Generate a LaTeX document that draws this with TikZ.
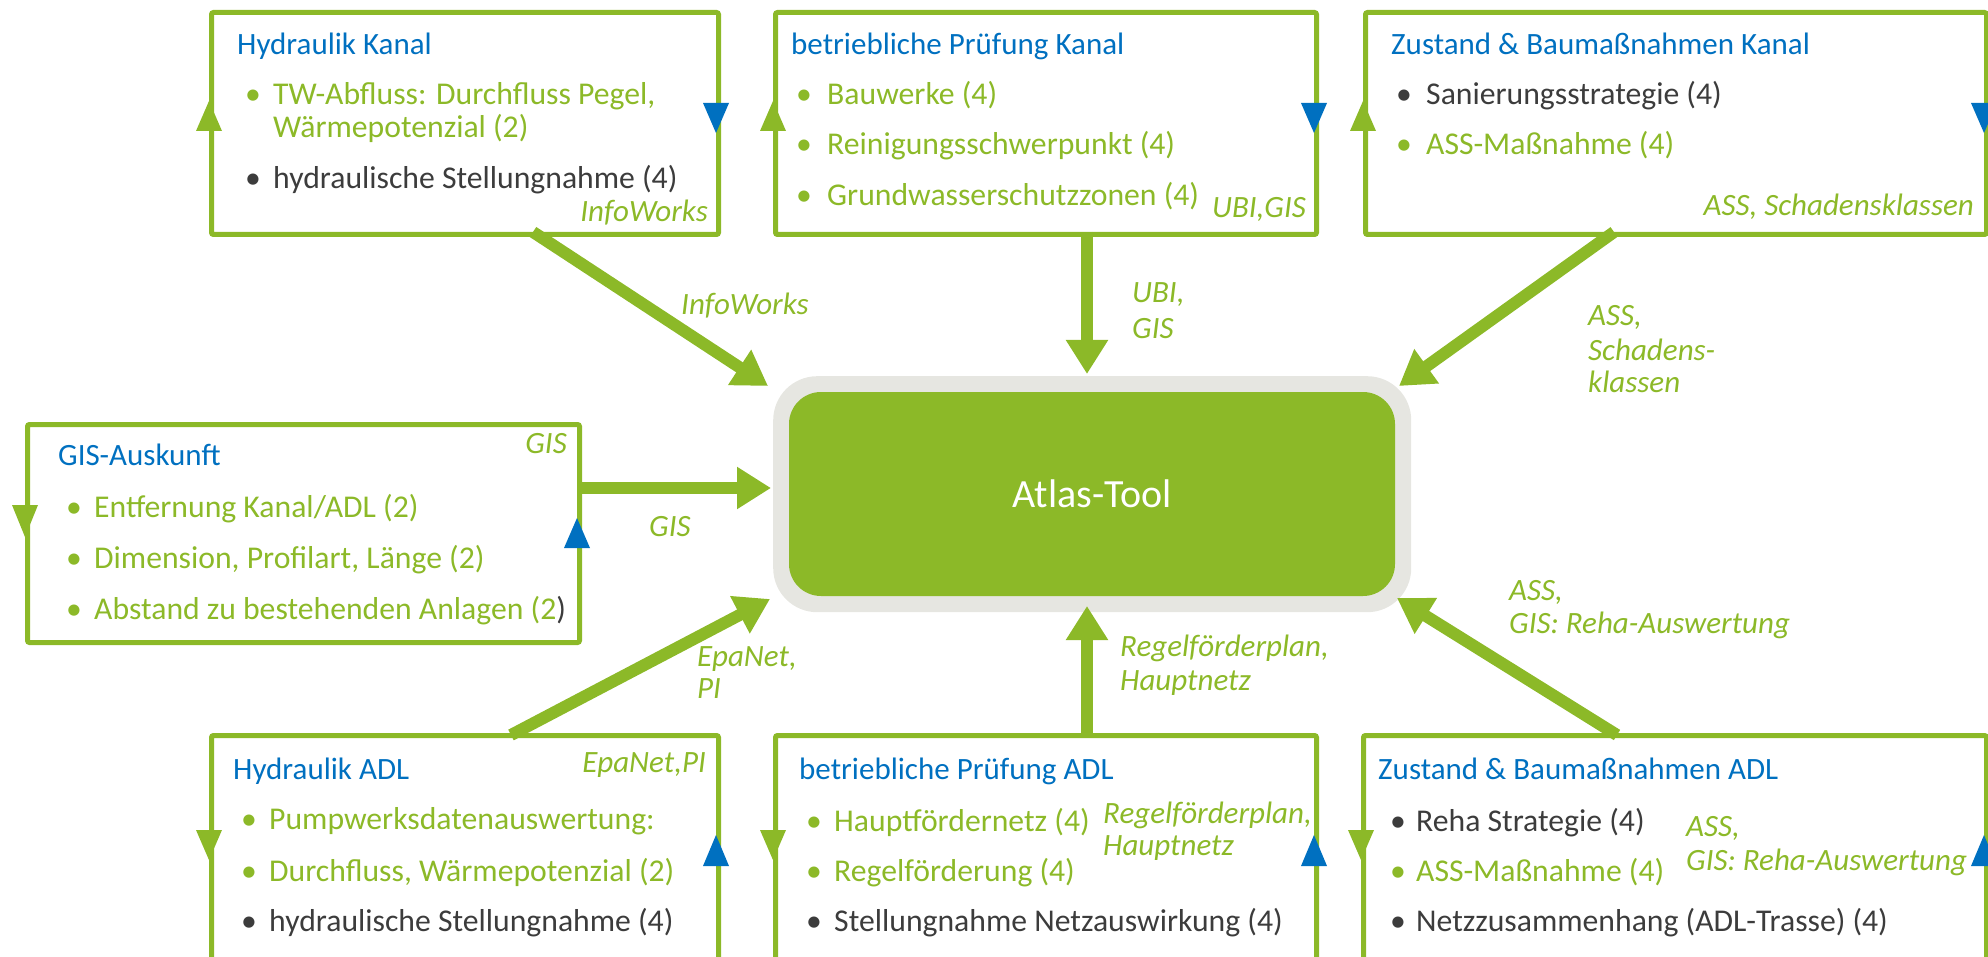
\documentclass[tikz,border=0pt]{standalone}
\usepackage{fontspec}
\setmainfont{Carlito}
\usetikzlibrary{arrows.meta}
\definecolor{agreen}{HTML}{8CB928}
\definecolor{ablue}{HTML}{0070C0}
\definecolor{adark}{HTML}{3C3C3C}
\definecolor{agray}{HTML}{E6E6E1}
\newcommand\fsz{\fontsize{31.7}{33}\selectfont}
\newcommand\tsz{\fontsize{31}{33}\selectfont}
\newcommand\mytri[4]{\fill[#4] (#1-13,#2) -- (#1+13,#2) -- (#1,#3) -- cycle;}
\begin{document}
\begin{tikzpicture}[x=1pt,y=-1pt,
 box/.style={draw=agreen, line width=5pt, rounded corners=2pt, anchor=north west, inner sep=0pt},
 ttl/.style={anchor=base west, inner sep=0pt, text=ablue, font=\tsz},
 gi/.style={anchor=base west, inner sep=0pt, text=agreen, font=\fsz},
 di/.style={anchor=base west, inner sep=0pt, text=adark, font=\fsz},
 lbl/.style={anchor=base west, inner sep=0pt, text=agreen, font=\tsz\itshape},
 lblr/.style={anchor=base east, inner sep=0pt, text=agreen, font=\tsz\itshape},
 conn/.style={draw=agreen, line width=12pt, -{Triangle[length=34pt,width=40pt]}},
]
\useasboundingbox (0,0) rectangle (1988,957);
\clip (0,0) rectangle (1988,957);

% ---------- boxes ----------
\node[box, minimum width=507pt, minimum height=222pt] (hk) at (209,10) {};
\node[box, minimum width=541pt, minimum height=222pt] (bpk) at (773,10) {};
\node[box, minimum width=621pt, minimum height=222pt] (zbk) at (1363,10) {};
\node[box, minimum width=552pt, minimum height=218pt] (gis) at (25,422) {};
\node[box, minimum width=507pt, minimum height=260pt] (hadl) at (209,733) {};
\node[box, minimum width=541pt, minimum height=260pt] (bpadl) at (773,733) {};
\node[box, minimum width=623pt, minimum height=260pt] (zbadl) at (1361,733) {};

% ---------- edge triangles ----------
\mytri{209}{131}{101}{agreen}  \mytri{716}{103}{133}{ablue}
\mytri{773}{131}{101}{agreen}  \mytri{1314}{103}{133}{ablue}
\mytri{1363}{131}{101}{agreen} \mytri{1984}{103}{133}{ablue}
\mytri{25}{505}{537}{agreen}   \mytri{577}{548}{518}{ablue}
\mytri{209}{830}{860}{agreen}  \mytri{716}{866}{835}{ablue}
\mytri{773}{830}{860}{agreen}  \mytri{1314}{866}{835}{ablue}
\mytri{1361}{830}{860}{agreen} \mytri{1984}{866}{835}{ablue}

% ---------- Atlas ----------
\node[fill=agray, rounded corners=44pt, minimum width=638pt, minimum height=236pt, anchor=north west, inner sep=0pt] (atlasbg) at (773,376) {};
\node[fill=agreen, rounded corners=32pt, minimum width=606pt, minimum height=204pt, inner sep=0pt, text=white, font=\fontsize{40}{42}\selectfont] (atlas) at (1092,494) {Atlas-Tool};

% ---------- Hydraulik Kanal ----------
\node[ttl] (hkt) at (237,55) {Hydraulik Kanal};
\node[gi] (hkb1) at (245,105) {•};
\node[gi] (hki1) at (273,105) {TW-Abfluss: Durchfluss Pegel,};
\node[gi] (hki1b) at (273,138) {Wärmepotenzial (2)};
\node[di] (hkb2) at (245,189) {•};
\node[di] (hki2) at (273,189) {hydraulische Stellungnahme (4)};
\node[lblr] (hkl) at (708,222) {InfoWorks};

% ---------- betriebliche Pruefung Kanal ----------
\node[ttl] (bpkt) at (791,55) {betriebliche Prüfung Kanal};
\node[gi] (bpkb1) at (796,105) {•};
\node[gi] (bpki1) at (827,105) {Bauwerke (4)};
\node[gi] (bpkb2) at (796,155) {•};
\node[gi] (bpki2) at (827,155) {Reinigungsschwerpunkt (4)};
\node[gi] (bpkb3) at (796,206) {•};
\node[gi] (bpki3) at (827,206) {Grundwasserschutzzonen (4)};
\node[lblr] (bpkl) at (1306,218) {UBI,GIS};

% ---------- Zustand Kanal ----------
\node[ttl] (zbkt) at (1391,55) {Zustand \& Baumaßnahmen Kanal};
\node[di] (zbkb1) at (1396,105) {•};
\node[di] (zbki1) at (1426,105) {Sanierungsstrategie (4)};
\node[gi] (zbkb2) at (1396,155) {•};
\node[gi] (zbki2) at (1426,155) {ASS-Maßnahme (4)};
\node[lblr] (zbkl) at (1974,216) {ASS, Schadensklassen};

% ---------- GIS-Auskunft ----------
\node[ttl] (gist) at (58,465) {GIS-Auskunft};
\node[lblr] (gisl) at (567,453) {GIS};
\node[gi] (gisb1) at (66,517) {•};
\node[gi] (gisi1) at (94,517) {Entfernung Kanal/ADL (2)};
\node[gi] (gisb2) at (66,568) {•};
\node[gi] (gisi2) at (94,568) {Dimension, Profilart, Länge (2)};
\node[gi] (gisb3) at (66,619) {•};
\node[gi] (gisi3) at (94,619) {Abstand zu bestehenden Anlagen (2\textcolor{adark}{)}};

% ---------- Hydraulik ADL ----------
\node[ttl] (hadlt) at (233,779) {Hydraulik ADL};
\node[lblr] (hadll) at (706,772) {EpaNet,PI};
\node[gi] (hadlb1) at (241,829) {•};
\node[gi] (hadli1) at (269,829) {Pumpwerksdatenauswertung:};
\node[gi] (hadlb2) at (241,881) {•};
\node[gi] (hadli2) at (269,881) {Durchfluss, Wärmepotenzial (2)};
\node[di] (hadlb3) at (241,931) {•};
\node[di] (hadli3) at (269,931) {hydraulische Stellungnahme (4)};

% ---------- betriebliche Pruefung ADL ----------
\node[ttl] (bpadlt) at (799,779) {betriebliche Prüfung ADL};
\node[gi] (bpadlb1) at (806,831) {•};
\node[gi] (bpadli1) at (834,831) {Hauptfördernetz (4)};
\node[gi] (bpadlb2) at (806,881) {•};
\node[gi] (bpadli2) at (834,881) {Regelförderung (4)};
\node[di] (bpadlb3) at (806,931) {•};
\node[di] (bpadli3) at (834,931) {Stellungnahme Netzauswirkung (4)};
\node[lbl] (bpadll1) at (1103,823) {Regelförderplan,};
\node[lbl] (bpadll2) at (1103,855) {Hauptnetz};

% ---------- Zustand ADL ----------
\node[ttl] (zbadlt) at (1378,779) {Zustand \& Baumaßnahmen ADL};
\node[di] (zbadlb1) at (1390,831) {•};
\node[di] (zbadli1) at (1416,831) {Reha Strategie (4)};
\node[gi] (zbadlb2) at (1390,881) {•};
\node[gi] (zbadli2) at (1416,881) {ASS-Maßnahme (4)};
\node[di] (zbadlb3) at (1390,931) {•};
\node[di] (zbadli3) at (1416,931) {Netzzusammenhang (ADL-Trasse) (4)};
\node[lbl] (zbadll1) at (1686,836) {ASS,};
\node[lbl] (zbadll2) at (1686,870) {GIS: Reha-Auswertung};

% ---------- connectors ----------
\coordinate (c1s) at (533,232);  \coordinate (c1e) at (768,386);
\coordinate (c2s) at (1087,232); \coordinate (c2e) at (1087,374);
\coordinate (c3s) at (1614,232); \coordinate (c3e) at (1399,386);
\coordinate (c4s) at (577,488);  \coordinate (c4e) at (771,488);
\coordinate (c5s) at (511,735);  \coordinate (c5e) at (770,599);
\coordinate (c6s) at (1087,733); \coordinate (c6e) at (1087,606);
\coordinate (c7s) at (1617,735); \coordinate (c7e) at (1397,598);
\draw[conn] (c1s) -- (c1e);
\draw[conn] (c2s) -- (c2e);
\draw[conn] (c3s) -- (c3e);
\draw[conn] (c4s) -- (c4e);
\draw[conn] (c5s) -- (c5e);
\draw[conn] (c6s) -- (c6e);
\draw[conn] (c7s) -- (c7e);

% ---------- connector labels ----------
\node[lbl] (l1) at (681,315) {InfoWorks};
\node[lbl] (l2a) at (1132,303) {UBI,};
\node[lbl] (l2b) at (1132,339) {GIS};
\node[lbl] (l3a) at (1588,326) {ASS,};
\node[lbl] (l3b) at (1588,360) {Schadens-};
\node[lbl] (l3c) at (1588,392) {klassen};
\node[lbl] (l4) at (649,536) {GIS};
\node[lbl] (l5a) at (697,666) {EpaNet,};
\node[lbl] (l5b) at (697,698) {PI};
\node[lbl] (l6a) at (1120,656) {Regelförderplan,};
\node[lbl] (l6b) at (1120,690) {Hauptnetz};
\node[lbl] (l7a) at (1509,600) {ASS,};
\node[lbl] (l7b) at (1509,633) {GIS: Reha-Auswertung};
\end{tikzpicture}
\end{document}
